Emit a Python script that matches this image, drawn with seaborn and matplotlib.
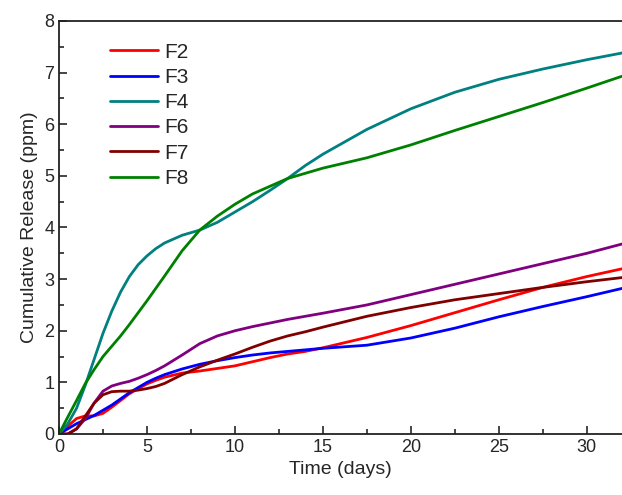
import pandas as pd
import numpy as np
import matplotlib
matplotlib.use("Agg")
import matplotlib.pyplot as plt
from matplotlib.ticker import MultipleLocator
import seaborn as sns

# ── data ──────────────────────────────────────────────────────────────────────
days = [0, 0.5, 1, 1.5, 2, 2.5, 3, 3.5, 4, 4.5, 5, 5.5, 6, 7, 8, 9, 10, 11, 12,
        13, 14, 15, 17.5, 20, 22.5, 25, 27.5, 30, 32]

F2 = [0, 0.15, 0.3, 0.35, 0.35, 0.4, 0.52, 0.65, 0.78, 0.88, 0.97, 1.04, 1.1,
      1.18, 1.22, 1.27, 1.32, 1.4, 1.48, 1.55, 1.6, 1.67, 1.87, 2.1, 2.35, 2.6,
      2.84, 3.05, 3.2]
F3 = [0, 0.1, 0.2, 0.28, 0.36, 0.46, 0.56, 0.68, 0.8, 0.9, 1.0, 1.08, 1.15,
      1.26, 1.35, 1.42, 1.48, 1.53, 1.57, 1.6, 1.63, 1.66, 1.72, 1.86, 2.05,
      2.27, 2.47, 2.66, 2.82]
F4 = [0, 0.2, 0.5, 0.95, 1.45, 1.95, 2.38, 2.75, 3.05, 3.28, 3.45, 3.59, 3.7,
      3.85, 3.95, 4.1, 4.3, 4.5, 4.72, 4.95, 5.2, 5.42, 5.9, 6.3, 6.62, 6.87,
      7.07, 7.25, 7.38]
F6 = [0, 0.0, 0.1, 0.3, 0.6, 0.83, 0.93, 0.98, 1.02, 1.08, 1.15, 1.23, 1.32,
      1.53, 1.75, 1.9, 2.0, 2.08, 2.15, 2.22, 2.28, 2.34, 2.5, 2.7, 2.9, 3.1,
      3.3, 3.5, 3.68]
F7 = [0, 0.0, 0.1, 0.35, 0.6, 0.76, 0.82, 0.83, 0.83, 0.85, 0.88, 0.92, 0.98,
      1.15, 1.3, 1.43, 1.55, 1.68, 1.8, 1.9, 1.98, 2.07, 2.28, 2.45, 2.6, 2.72,
      2.84, 2.95, 3.03]
F8 = [0, 0.33, 0.65, 0.98, 1.25, 1.5, 1.7, 1.9, 2.12, 2.35, 2.58, 2.82, 3.06,
      3.55, 3.95, 4.22, 4.45, 4.65, 4.8, 4.95, 5.05, 5.15, 5.35, 5.6, 5.88, 6.15,
      6.42, 6.7, 6.93]

series = {"F2": F2, "F3": F3, "F4": F4, "F6": F6, "F7": F7, "F8": F8}
PALETTE = {"F2": "#ff0000", "F3": "#0000ff", "F4": "#008080",
           "F6": "#800080", "F7": "#800000", "F8": "#008000"}

df = pd.concat([pd.DataFrame({"day": days, "release": v, "sample": k})
                for k, v in series.items()], ignore_index=True)

sns.set_theme(style="ticks")
plt.rcParams["font.family"] = ["Liberation Sans", "DejaVu Sans"]

fig = plt.figure(figsize=(6.22, 4.95), dpi=100)
ax = fig.add_axes([59 / 622, 61 / 495, 563 / 622, 413 / 495])

sns.lineplot(data=df, x="day", y="release", hue="sample", palette=PALETTE,
             linewidth=2, ax=ax)

ax.set_xlim(0, 32)
ax.set_ylim(0, 8)
ax.xaxis.set_major_locator(MultipleLocator(5))
ax.xaxis.set_minor_locator(MultipleLocator(2.5))
ax.yaxis.set_major_locator(MultipleLocator(1))
ax.yaxis.set_minor_locator(MultipleLocator(0.5))
ax.tick_params(which="both", direction="in", top=False, right=False,
               labelsize=13, width=1.2)
ax.tick_params(which="major", length=6)
ax.tick_params(which="minor", length=3.5)
for s in ["left", "bottom", "top"]:
    ax.spines[s].set_linewidth(1.3)
    ax.spines[s].set_color("#222222")
ax.spines["right"].set_visible(False)

ax.set_xlabel("Time (days)", fontsize=14)
ax.set_ylabel("Cumulative Release (ppm)", fontsize=14)

ax.legend(loc="upper left", bbox_to_anchor=(0.058, 0.993), frameon=False,
          fontsize=15, handlelength=2.3, labelspacing=0.3, handletextpad=0.3,
          title=None)

fig.savefig("out.png", dpi=100)
